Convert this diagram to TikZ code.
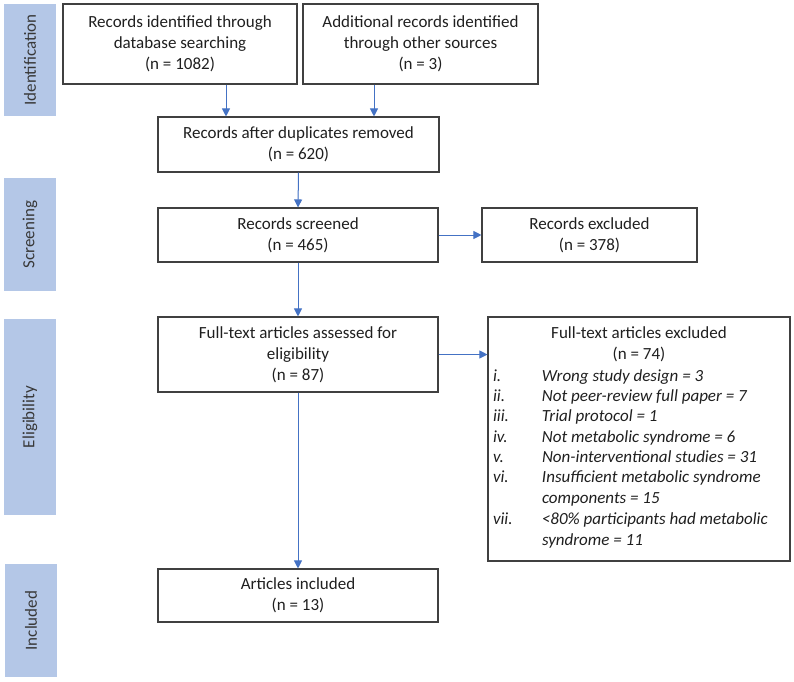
\documentclass[tikz,border=0pt]{standalone}
\usepackage{fontspec}
\setmainfont{Carlito}
\usetikzlibrary{arrows.meta}
\definecolor{phaseblue}{HTML}{B4C7E7}
\definecolor{arrowblue}{HTML}{4472C4}

\begin{document}
\begin{tikzpicture}[x=1pt,y=-1pt]
                \tikzstyle{every node}=[font=\fontsize{17}{21}\selectfont, text=black!88]
                \tikzstyle{box}=[draw=black!75, line width=1.1pt, align=center, inner sep=0pt]
                \tikzstyle{phase}=[fill=phaseblue, rotate=90, text=black!78, inner sep=0pt, minimum height=52]
                \tikzstyle{arr}=[-{Triangle[length=8pt,width=8pt]}, draw=arrowblue, fill=arrowblue, line width=1pt]
                \useasboundingbox (0,0) rectangle (794,681);

                % phase bars
                \node[phase, minimum width=112] (ident) at (30,60) {Identification};
                \node[phase, minimum width=113] (screening) at (30,234.5) {Screening};
                \node[phase, minimum width=196] (elig) at (30,417) {Eligibility};
                \node[phase, minimum width=113] (included) at (31,620.5) {Included};

                % boxes
                \node[box, minimum width=234, minimum height=80] (db) at (180,44) {Records identified through\\database searching\\(n = 1082)};
                \node[box, minimum width=235, minimum height=80] (other) at (420.5,44) {Additional records identified\\through other sources\\(n = 3)};
                \node[box, minimum width=281, minimum height=55] (dup) at (298.5,144.5) {Records after duplicates removed\\(n = 620)};
                \node[box, minimum width=280, minimum height=54] (screen) at (298,235) {Records screened\\(n = 465)};
                \node[box, minimum width=215, minimum height=54] (recexcl) at (589.5,235) {Records excluded\\(n = 378)};
                \node[box, minimum width=280, minimum height=75] (fulltext) at (298,354.5) {Full-text articles assessed for\\eligibility\\(n = 87)};
                \node[box, minimum width=302, minimum height=244] (fullexcl) at (639,439) {Full-text articles excluded\\(n = 74)\\[4pt]
                    \renewcommand{\arraystretch}{0.97}%
                    \begin{tabular}{@{}p{49pt}@{}p{243pt}@{}}
                    \textit{i.} & \textit{Wrong study design = 3}\\
                    \textit{ii.} & \textit{Not peer-review full paper = 7}\\
                    \textit{iii.} & \textit{Trial protocol = 1}\\
                    \textit{iv.} & \textit{Not metabolic syndrome = 6}\\
                    \textit{v.} & \textit{Non-interventional studies = 31}\\
                    \textit{vi.} & \textit{Insufficient metabolic syndrome\newline components = 15}\\
                    \textit{vii.} & \textit{<80\% participants had metabolic\newline syndrome = 11}
                    \end{tabular}};
                \node[box, minimum width=280, minimum height=53] (incl) at (298,595.5) {Articles included\\(n = 13)};

                % connectors
                \coordinate (c1) at (226,0);
                \coordinate (c2) at (374,0);
                \draw[arr] (db.south -| c1) -- (dup.north -| c1);
                \draw[arr] (other.south -| c2) -- (dup.north -| c2);
                \draw[arr] (dup.south) -- (screen.north);
                \draw[arr] (screen.east) -- (recexcl.west);
                \draw[arr] (screen.south) -- (fulltext.north);
                \draw[arr] (fulltext.east) -- (fullexcl.west |- fulltext.east);
                \draw[arr] (fulltext.south) -- (incl.north);
            \end{tikzpicture}
\end{document}
